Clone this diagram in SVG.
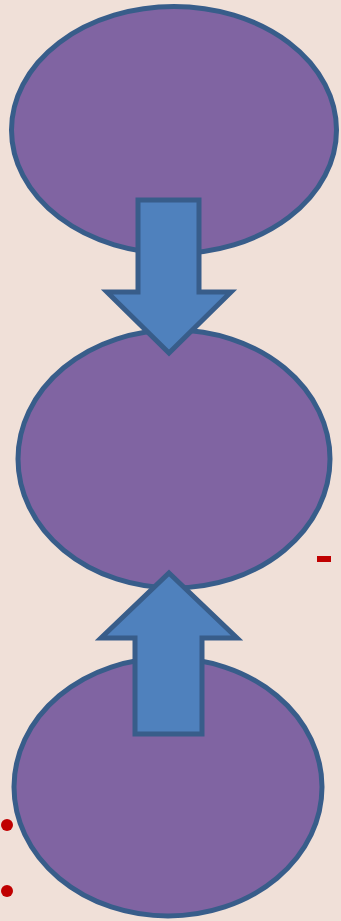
<svg xmlns="http://www.w3.org/2000/svg" width="341" height="921" viewBox="0 0 341 921">
<style>
.node{fill:#8064A2;stroke:#385D8A;stroke-width:5}
.arrow{fill:#4F81BD;stroke:#385D8A;stroke-width:5;stroke-linejoin:miter}
.mark{fill:#C00000}
</style>
<rect width="341" height="921" fill="#F0E0D8"/>
<g id="node1"><ellipse class="node" cx="174" cy="130" rx="162.5" ry="123.5"/></g>
<g id="node2"><ellipse class="node" cx="174" cy="459" rx="156" ry="129"/></g>
<g id="node3"><ellipse class="node" cx="168" cy="787" rx="154" ry="129"/></g>
<g id="connectors">
<polygon class="arrow" points="138,200 199,200 199,292 231,292 169,353 107,292 138,292"/>
<polygon class="arrow" points="169,573 237,638 202,638 202,734 135,734 135,638 101,638"/>
</g>
<rect class="mark" x="317" y="556" width="14" height="6"/>
<circle class="mark" cx="7" cy="825" r="6"/>
<circle class="mark" cx="7" cy="891" r="6"/>
</svg>
